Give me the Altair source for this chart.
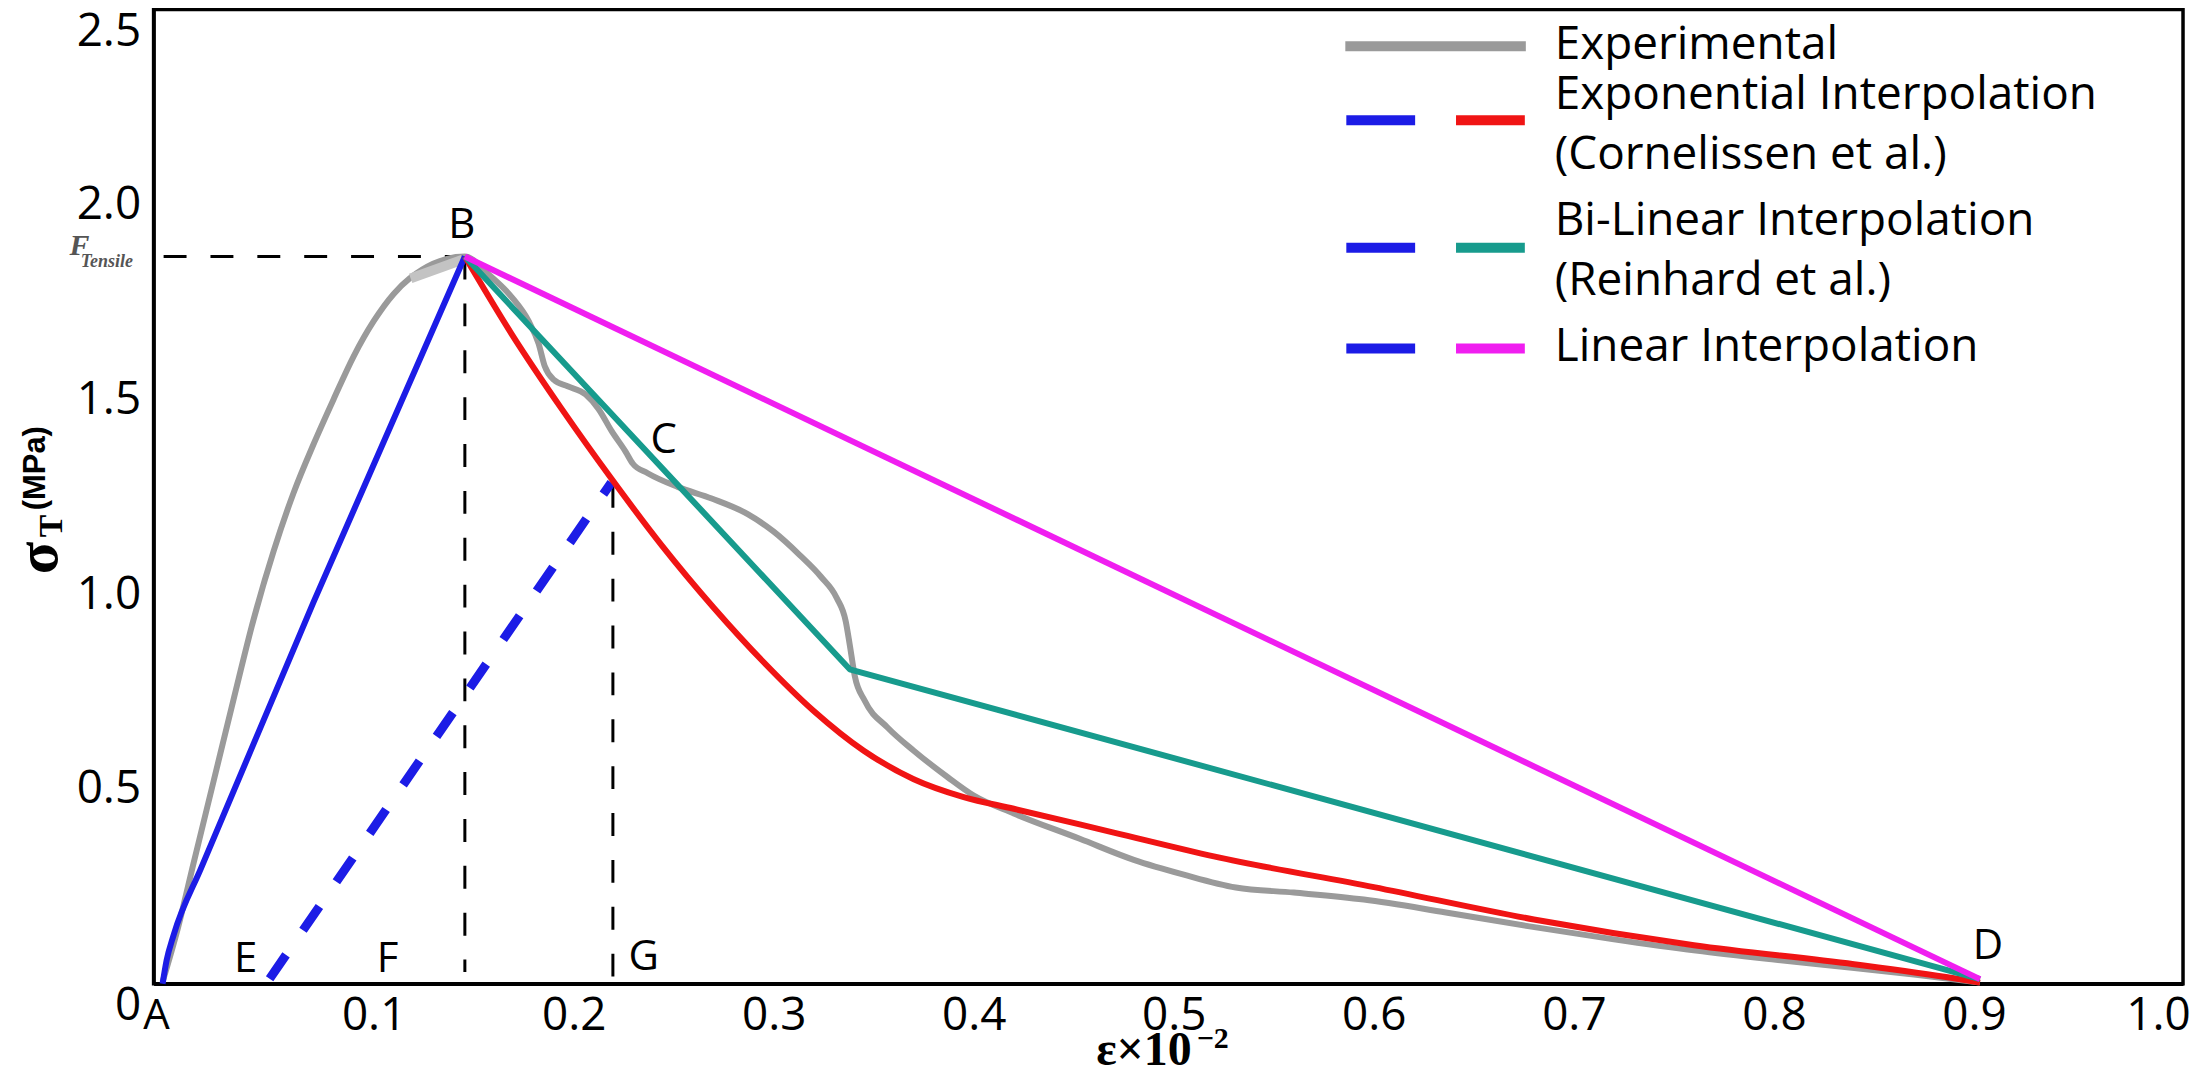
import altair as alt
import pandas as pd

# ---------------- values ----------------
# Experimental curve (grey)
exp_x = [-0.0055, 0.002, 0.010, 0.020, 0.030, 0.040, 0.050, 0.060, 0.070, 0.080, 0.090, 0.100, 0.110, 0.118,
         0.1456, 0.1575, 0.169, 0.1775, 0.1825, 0.1855, 0.190, 0.197, 0.206, 0.2124, 0.219, 0.226, 0.2295,
         0.237, 0.252, 0.269, 0.287, 0.300, 0.313, 0.3235, 0.3315, 0.336, 0.338, 0.3405, 0.3455,
         0.357, 0.370, 0.387, 0.400, 0.420, 0.453, 0.480, 0.505, 0.531, 0.560, 0.595, 0.636, 0.677,
         0.720, 0.761, 0.800, 0.839, 0.870, 0.903]
exp_y = [0.005, 0.14, 0.31, 0.52, 0.73, 0.935, 1.11, 1.26, 1.385, 1.50, 1.61, 1.70, 1.77, 1.81,
         1.866, 1.820, 1.762, 1.70, 1.642, 1.585, 1.550, 1.533, 1.512, 1.475, 1.418, 1.365, 1.335,
         1.310, 1.275, 1.245, 1.205, 1.160, 1.100, 1.045, 0.99, 0.93, 0.87, 0.79, 0.726,
         0.657, 0.598, 0.53, 0.483, 0.437, 0.372, 0.318, 0.28, 0.247, 0.234, 0.216, 0.183, 0.148,
         0.114, 0.085, 0.062, 0.041, 0.024, 0.003]
# light, thicker part of the experimental curve just before the peak
exp_cap_x = [0.1185, 0.1445]
exp_cap_y = [1.81, 1.858]

# Loading branch A -> B (blue, solid)
load_x = [-0.0055, -0.0035, 0.0, 0.014, 0.070, 0.1456]
load_y = [0.0, 0.06, 0.125, 0.30, 0.98, 1.866]

# Unloading branch from E (blue, dashed)
unload_x = [0.048, 0.2188]
unload_y = [0.013, 1.286]

# Exponential softening (red)
expo_x = [0.1456, 0.169, 0.194, 0.219, 0.244, 0.270, 0.295, 0.320, 0.345, 0.370, 0.395, 0.420,
          0.470, 0.520, 0.600, 0.680, 0.760, 0.840, 0.890, 0.903]
expo_y = [1.866, 1.667, 1.475, 1.295, 1.125, 0.965, 0.825, 0.700, 0.598, 0.525, 0.479, 0.449,
          0.388, 0.327, 0.248, 0.165, 0.099, 0.050, 0.014, 0.003]

# Bi-linear softening (teal)
bilin_x = [0.1456, 0.338, 0.903]
bilin_y = [1.866, 0.807, 0.012]

# Linear softening (magenta)
lin_x = [0.1456, 0.903]
lin_y = [1.866, 0.012]

# Reference (black dashed) lines
f_tensile = 1.866
peak_strain = 0.1456
g_strain = 0.2196
g_top = 1.28

# Point labels
pt_labels = ["A", "B", "C", "D", "E", "F", "G"]
pt_x = [-0.0085, 0.144, 0.245, 0.907, 0.036, 0.107, 0.235]
pt_y = [-0.084, 1.948, 1.395, 0.097, 0.064, 0.064, 0.069]

x_ticks = [0.1, 0.2, 0.3, 0.4, 0.5, 0.6, 0.7, 0.8, 0.9, 1.0]
y_ticks = [0, 0.5, 1.0, 1.5, 2.0, 2.5]

legend_names = ["Experimental", "Exponential Interpolation", "(Cornelissen et al.)",
                "Bi-Linear Interpolation", "(Reinhard et al.)", "Linear Interpolation"]

# ---------------- styling ----------------
GREY = "#9a9a9a"
LIGHT = "#c3c3c3"
BLUE = "#1c1ce6"
RED = "#f01414"
TEAL = "#179b8d"
MAGENTA = "#f01ef0"
SANS = "Open Sans"
SERIF = "Liberation Serif"

XS = alt.Scale(domain=[-0.01, 1.0045], nice=False, zero=False)
YS = alt.Scale(domain=[0, 2.5], nice=False, zero=False)

XAX = alt.Axis(values=x_ticks, labelExpr="format(datum.value, '.1f')", title=None,
               labelFont=SANS, labelFontSize=46, labelColor="black", labelPadding=10,
               labelOffset={"condition": {"test": "datum.value == 1", "value": -16}, "value": 0},
               labelFlush=False, labelOverlap=False, ticks=False, tickSize=0, grid=False,
               domainColor="black", domainWidth=3.5)
YAX = alt.Axis(values=y_ticks, labelExpr="datum.value == 0 ? '0' : format(datum.value, '.1f')",
               title=None, labelFont=SANS, labelFontSize=46, labelColor="black", labelPadding=13,
               labelFlush=False, labelOverlap=False, ticks=False, tickSize=0, grid=False,
               domainColor="black", domainWidth=3.5,
               labelBaseline={"condition": {"test": "datum.value == 0 || datum.value == 2.5",
                                            "value": "top"}, "value": "middle"})


def xe(f):
    return alt.X(f"{f}:Q", scale=XS, axis=XAX)


def ye(f):
    return alt.Y(f"{f}:Q", scale=YS, axis=YAX)


def line_layer(xs, ys, color, width=6, interp="linear", dash=None):
    df = pd.DataFrame({"x": xs, "y": ys})
    kw = dict(color=color, strokeWidth=width, interpolate=interp, strokeJoin="round")
    if dash:
        kw["strokeDash"] = dash
    return alt.Chart(df).mark_line(**kw).encode(x=xe("x"), y=ye("y"))


# black dashed reference lines
guides = pd.DataFrame({
    "g": ["h", "h", "vb", "vb", "vg", "vg"],
    "x": [-0.005, peak_strain, peak_strain, peak_strain, g_strain, g_strain],
    "y": [f_tensile, f_tensile, f_tensile, 0.03, g_top, 0.0],
})
guide_layer = alt.Chart(guides).mark_line(color="black", strokeWidth=3, strokeDash=[23, 24]).encode(
    x=xe("x"), y=ye("y"), detail="g:N")

exp_layer = line_layer(exp_x, exp_y, GREY, 6, "monotone")
cap_layer = line_layer(exp_cap_x, exp_cap_y, LIGHT, 10)
load_layer = line_layer(load_x, load_y, BLUE, 6, "monotone")
unload_layer = line_layer(unload_x, unload_y, BLUE, 9, dash=[29, 30])
expo_layer = line_layer(expo_x, expo_y, RED, 6, "monotone")
bilin_layer = line_layer(bilin_x, bilin_y, TEAL, 6)
lin_layer = line_layer(lin_x, lin_y, MAGENTA, 6)

pts = pd.DataFrame({"t": pt_labels, "x": pt_x, "y": pt_y})
pt_layer = alt.Chart(pts).mark_text(font=SANS, fontSize=42, color="black", align="center",
                                    baseline="middle").encode(x=xe("x"), y=ye("y"), text="t:N")

# F_Tensile label at the level of the tensile strength
ften = pd.DataFrame({"t": ["F"], "x": [-0.047], "y": [1.893]})
ften_layer = alt.Chart(ften).mark_text(font=SERIF, fontStyle="italic", fontWeight="bold", fontSize=30,
                                       color="#555555", align="center", baseline="middle").encode(
    x=xe("x"), y=ye("y"), text="t:N")
ften2 = pd.DataFrame({"t": ["Tensile"], "x": [-0.0334], "y": [1.851]})
ften2_layer = alt.Chart(ften2).mark_text(font=SERIF, fontStyle="italic", fontWeight="bold", fontSize=18,
                                         color="#555555", align="center", baseline="middle").encode(
    x=xe("x"), y=ye("y"), text="t:N")


# ---------------- axis titles (pixel placed, rich text) ----------------
def px_text(items, **mk):
    df = pd.DataFrame(items, columns=["t", "px", "py"])
    return alt.Chart(df).mark_text(**mk).encode(
        x=alt.X("px:Q", scale=None, axis=None), y=alt.Y("py:Q", scale=None, axis=None), text="t:N")


ytitle_sigma = px_text([("σ", -115, 550)], font=SERIF, fontWeight="bold", fontSize=60, angle=270,
                       align="center", baseline="middle", color="black")
ytitle_t = px_text([("T", -102, 518)], font=SERIF, fontWeight="bold", fontSize=34, angle=270,
                   align="center", baseline="middle", color="black")
ytitle_mpa = px_text([("(MPa)", -118, 460)], font="Liberation Sans", fontWeight="bold", fontSize=31,
                     angle=270, align="center", baseline="middle", color="black")
xtitle_main = px_text([("ε×10", 1041, 1058)], font=SERIF, fontWeight="bold", fontSize=48,
                      align="right", baseline="alphabetic", color="black")
xtitle_sup = px_text([("−2", 1046, 1041)], font=SERIF, fontWeight="bold", fontSize=30,
                     align="left", baseline="alphabetic", color="black")

# ---------------- custom legend ----------------
leg_seg = pd.DataFrame({
    "x": [1195, 1196, 1306, 1196, 1306, 1196, 1306],
    "x2": [1376, 1265, 1375, 1265, 1375, 1265, 1375],
    "y": [37, 111, 111, 239, 239, 340, 340],
    "c": [GREY, BLUE, RED, BLUE, TEAL, BLUE, MAGENTA],
})
leg_seg_layer = alt.Chart(leg_seg).mark_rule(strokeWidth=10, strokeCap="butt").encode(
    x=alt.X("x:Q", scale=None, axis=None), x2="x2:Q",
    y=alt.Y("y:Q", scale=None, axis=None), color=alt.Color("c:N", scale=None, legend=None))
leg_txt = pd.DataFrame({"t": legend_names, "px": [1405] * 6, "py": [50, 100, 160, 226, 286, 353]})
leg_txt_layer = alt.Chart(leg_txt).mark_text(font=SANS, fontSize=46, color="black", align="left",
                                             baseline="alphabetic").encode(
    x=alt.X("px:Q", scale=None, axis=None), y=alt.Y("py:Q", scale=None, axis=None), text="t:N")

chart = alt.layer(
    guide_layer, exp_layer, cap_layer, load_layer, unload_layer, expo_layer, bilin_layer, lin_layer,
    pt_layer, ften_layer, ften2_layer,
    ytitle_sigma, ytitle_t, ytitle_mpa, xtitle_main, xtitle_sup,
    leg_seg_layer, leg_txt_layer,
).properties(
    width=2035, height=977,
    autosize=alt.AutoSizeParams(type="none"),
    padding={"left": 146, "top": 0, "right": 7, "bottom": 82},
    background="white",
).configure_view(stroke="black", strokeWidth=3.5)

chart.save("out.html", embed_options={"renderer": "svg", "actions": False})
